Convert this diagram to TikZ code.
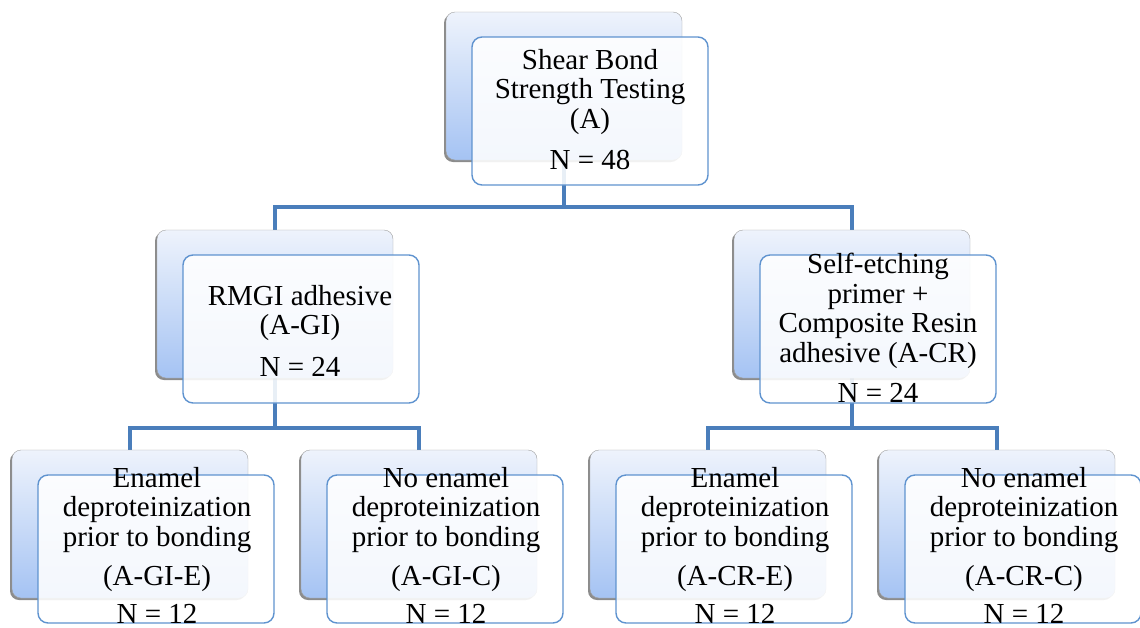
\documentclass[tikz,border=0pt]{standalone}
\usepackage{fontspec}
\setmainfont{Liberation Serif}
\usetikzlibrary{calc}
\usetikzlibrary{shadows}
\usetikzlibrary{backgrounds}

\definecolor{connblue}{HTML}{4A7EBB}
\definecolor{frontline}{HTML}{5F93CF}
\definecolor{backtop}{HTML}{EEF3FC}
\definecolor{backbot}{HTML}{A5C3F3}

\tikzset{
  backbox/.style={draw=gray!75, rounded corners=9pt, top color=backtop, bottom color=backbot,
    minimum width=236pt, minimum height=148pt,
    drop shadow={shadow xshift=-2pt, shadow yshift=-2pt, opacity=.45, fill=black}},
  frontbox/.style={draw=frontline, line width=1.4pt, rounded corners=10pt, fill=white,
    fill opacity=.88, minimum width=236pt, minimum height=148pt},
  lbl/.style={align=center, font=\fontsize{29}{29.5}\selectfont, inner sep=0pt},
  conn/.style={draw=connblue, line width=4.5pt}
}

\begin{document}
\begin{tikzpicture}[x=1pt,y=-1pt]
  \useasboundingbox (0,0) rectangle (1140,627);
  % level 1
  \node[backbox] (ab) at (564,86) {};
  \node[frontbox] (a) at ($(ab)+(26,25)$) {};
  \node[lbl] (atxt) at (590,92) {Shear Bond\\Strength Testing\\(A)};
  \node[lbl] (an) at (590,160) {N = 48};
  % level 2
  \node[backbox] (gib) at (275,304) {};
  \node[frontbox] (gi) at ($(gib)+(26,25)$) {};
  \node[lbl] (gitxt) at (300,313) {RMGI adhesive\\(A-GI)};
  \node[lbl] (gin) at (300,367) {N = 24};
  \node[backbox] (crb) at (852,304) {};
  \node[frontbox] (cr) at ($(crb)+(26,25)$) {};
  \node[lbl] (crtxt) at (878,311) {Self-etching\\primer +\\Composite Resin\\adhesive (A-CR)};
  \node[lbl] (crn) at (878,393) {N = 24};
  % level 3
  \node[backbox] (gieb) at (130,524) {};
  \node[frontbox] (gie) at ($(gieb)+(26,25)$) {};
  \node[lbl] (gietxt) at (157,510) {Enamel\\deproteinization\\prior to bonding};
  \node[lbl] (giecode) at (157,579) {(A-GI-E)};
  \node[lbl] (gien) at (157,614) {N = 12};
  \node[backbox] (gicb) at (419,524) {};
  \node[frontbox] (gic) at ($(gicb)+(26,25)$) {};
  \node[lbl] (gictxt) at (446,510) {No enamel\\deproteinization\\prior to bonding};
  \node[lbl] (giccode) at (446,579) {(A-GI-C)};
  \node[lbl] (gicn) at (446,614) {N = 12};
  \node[backbox] (creb) at (708,524) {};
  \node[frontbox] (cre) at ($(creb)+(26,25)$) {};
  \node[lbl] (cretxt) at (735,510) {Enamel\\deproteinization\\prior to bonding};
  \node[lbl] (crecode) at (735,579) {(A-CR-E)};
  \node[lbl] (cren) at (735,614) {N = 12};
  \node[backbox] (crcb) at (997,524) {};
  \node[frontbox] (crc) at ($(crcb)+(26,25)$) {};
  \node[lbl] (crctxt) at (1024,510) {No enamel\\deproteinization\\prior to bonding};
  \node[lbl] (crccode) at (1024,579) {(A-CR-C)};
  \node[lbl] (crcn) at (1024,614) {N = 12};
  % connectors
  \coordinate (j0) at (564,207);
  \coordinate (j1) at (275,428);
  \coordinate (j2) at (852,428);
  \begin{scope}[on background layer]
    \draw[conn] (ab.south) -- (j0);
    \draw[conn] (gib.north) |- (j0) -| (crb.north);
    \draw[conn] (gib.south) -- (j1);
    \draw[conn] (gieb.north) |- (j1) -| (gicb.north);
    \draw[conn] (crb.south) -- (j2);
    \draw[conn] (creb.north) |- (j2) -| (crcb.north);
  \end{scope}
\end{tikzpicture}
\end{document}
